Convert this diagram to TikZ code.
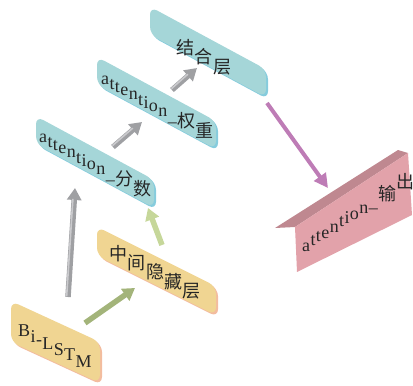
\documentclass[tikz,border=0pt]{standalone}
\usepackage{fontspec}
\setmainfont{Liberation Serif}
\newfontfamily\cjk{Noto Sans CJK SC}
\usetikzlibrary{arrows.meta,shadows,calc}
\definecolor{tealfill}{HTML}{A5D6D8}
\definecolor{tealedge}{HTML}{86CCDD}
\definecolor{yelfill}{HTML}{F0D592}
\definecolor{yeledge}{HTML}{F3BC9F}
\definecolor{pinktop}{HTML}{BF8890}
\definecolor{pinkfront}{HTML}{E2A2AA}
\definecolor{arrgray}{HTML}{9FA0A3}
\definecolor{arrgrayhi}{HTML}{CACACD}
\definecolor{arrgreen}{HTML}{A3B47A}
\definecolor{arrlgreen}{HTML}{C6D79A}
\definecolor{arrpurple}{HTML}{BE7CB6}
\newcommand\lblfont{\fontsize{18}{18}\selectfont}
\tikzset{
  boxbase/.style={rounded corners=8pt, inner sep=0pt, transform shape},
  tealbox/.style={boxbase, fill=tealfill, yslant=-0.54, minimum height=28pt,
    general shadow={fill=tealedge, shadow xshift=2pt, shadow yshift=-2pt}},
  yelbox/.style={boxbase, fill=yelfill,
    general shadow={fill=yeledge, shadow xshift=2pt, shadow yshift=-2pt}},
  glyph/.style={anchor=base west, inner sep=0pt, text=black!85},
  fatarrow/.style={line width=5.5pt, -{Triangle[width=14pt,length=12pt]}},
  hiline/.style={line width=1.6pt, arrgrayhi, shorten >=11pt, shorten <=0.5pt},
  thinarrow/.style={line width=4pt, -{Triangle[width=14pt,length=14pt]}}
}
% one node per glyph, each glyph set after the one before on a sloped base line
\newcommand\slantnodes[5]{% #1 name prefix, #2 start (base west), #3 slope, #4 font, #5 glyphs
  \foreach \c [count=\i, remember=\i as \j (initially 0)] in {#5}{%
    \ifnum\i=1
      \node[glyph, font=#4] (#1-\i) at (#2) {\c};
    \else
      \path let \p1=($(#1-\j.base east)-(#1-\j.base west)$) in
        node[glyph, font=#4] (#1-\i) at ($(#1-\j.base east)+(0,{#3*\x1})$) {\c};
    \fi
  }%
}
\begin{document}
\begin{tikzpicture}[x=1pt,y=1pt]
\useasboundingbox (0,0) rectangle (413,-386);
% boxes
\node[tealbox, minimum width=116pt] (jh) at (208,-52) {};
\node[tealbox, minimum width=119pt] (qz) at (156.5,-103) {};
\node[tealbox, minimum width=118pt] (fs) at (95,-162) {};
\node[yelbox, yslant=-0.5, minimum width=119pt, minimum height=29pt] (zj) at (156.5,-271) {};
\node[yelbox, yslant=-0.46, minimum width=89pt, minimum height=41pt] (bl) at (55.5,-342) {};
% labels
\coordinate (jhS) at (176,-54);
\slantnodes{jhT}{jhS}{-0.53}{\lblfont}{{\cjk 结},{\cjk 合},{\cjk 层}}
\coordinate (qzS) at (101,-84.5);
\slantnodes{qzT}{qzS}{-0.56}{\lblfont}{a,t,t,e,n,t,i,o,n,\_,{\cjk 权},{\cjk 重}}
\coordinate (fsS) at (39,-142.5);
\slantnodes{fsT}{fsS}{-0.56}{\lblfont}{a,t,t,e,n,t,i,o,n,\_,{\cjk 分},{\cjk 数}}
\coordinate (zjS) at (109,-260);
\slantnodes{zjT}{zjS}{-0.51}{\lblfont}{{\cjk 中},{\cjk 间},{\cjk 隐},{\cjk 藏},{\cjk 层}}
\coordinate (blS) at (18,-336);
\slantnodes{blT}{blS}{-0.54}{\lblfont}{B,i,-,L,S,T,M}
% output (folded card)
\fill[pinktop] (275,-228) -- (398,-150) -- (408,-153) -- (295,-227) -- cycle;
\fill[pinkfront] (295,-227) -- (408,-153) -- (412,-215) -- (297,-272) -- cycle;
\coordinate (outS) at (302,-251);
\slantnodes{outT}{outS}{0.66}{\lblfont}{a,t,t,e,n,t,i,o,n,\_,{\cjk 输},{\cjk 出}}
% arrow end points
\coordinate (a1s) at (68,-297);  \coordinate (a1e) at (75,-188);
\coordinate (a2s) at (113,-147); \coordinate (a2e) at (142,-122);
\coordinate (a3s) at (172,-90);  \coordinate (a3e) at (197,-68);
\coordinate (a4s) at (85,-323);  \coordinate (a4e) at (135,-288);
\coordinate (a5s) at (162,-245); \coordinate (a5e) at (148,-208);
\coordinate (a6s) at (267,-103); \coordinate (a6e) at (328,-188);
% connectors
\foreach \k in {1,2,3}{
  \draw[fatarrow, arrgray] (a\k s) -- (a\k e);
  \draw[hiline] ($(a\k s)!1.4pt!90:(a\k e)$) -- ($(a\k e)!1.4pt!-90:(a\k s)$);
}
\draw[fatarrow, arrgreen] (a4s) -- (a4e);
\draw[fatarrow, arrlgreen] (a5s) -- (a5e);
\draw[thinarrow, arrpurple] (a6s) -- (a6e);
\end{tikzpicture}
\end{document}
